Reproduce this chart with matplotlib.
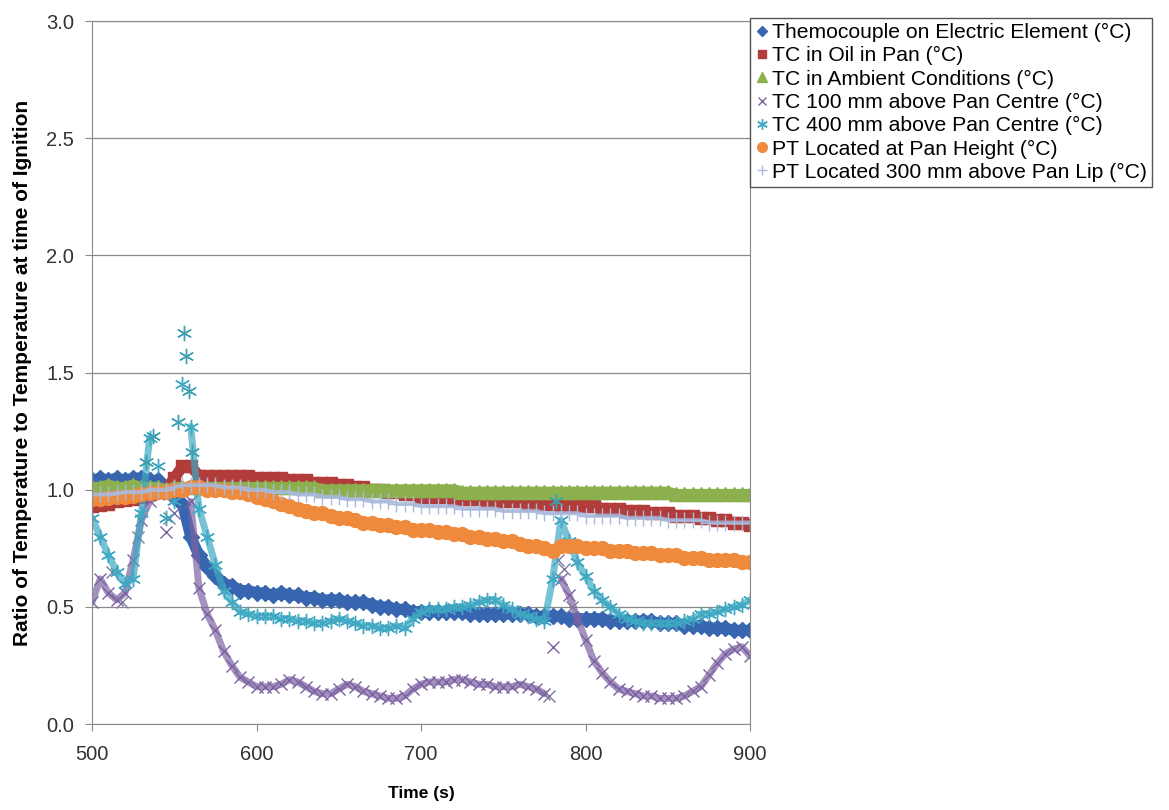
import numpy as np
import matplotlib
matplotlib.use('Agg')
import matplotlib.pyplot as plt

plt.rcParams['font.family'] = ['Liberation Sans', 'DejaVu Sans']

# time grid (s), every 5 s
time_s = np.arange(500, 901, 5)

element = [1.04, 1.05, 1.04, 1.05, 1.04, 1.05, 1.05, 1.04, 1.04,
           1.00, 0.97, 0.94, 0.80, 0.72, 0.67, 0.63, 0.60, 0.59, 0.57, 0.57, 0.56,
           0.56, 0.55, 0.56, 0.55, 0.55, 0.54, 0.54, 0.53, 0.53, 0.53,
           0.52, 0.52, 0.52, 0.51, 0.50, 0.50, 0.49, 0.49, 0.48, 0.48,
           0.48, 0.48, 0.48, 0.48, 0.48, 0.47, 0.47, 0.47, 0.47, 0.47,
           0.47, 0.47, 0.47, 0.46, 0.46, 0.46, 0.46, 0.45, 0.45, 0.45,
           0.45, 0.45, 0.44, 0.44, 0.44, 0.44, 0.44, 0.44, 0.43, 0.43,
           0.43, 0.42, 0.42, 0.42, 0.41, 0.41, 0.41, 0.40, 0.40, 0.40]

oil = [0.93, 0.935, 0.94, 0.95, 0.955, 0.96, 0.97, 0.98, 0.99,
       1.00, 1.05, 1.10, 1.10, 1.06, 1.06, 1.06, 1.06, 1.06, 1.06, 1.06, 1.05,
       1.05, 1.05, 1.05, 1.04, 1.04, 1.04, 1.03, 1.03, 1.03, 1.02,
       1.02, 1.01, 1.01, 1.00, 1.00, 0.99, 0.99, 0.98, 0.98, 0.97,
       0.97, 0.97, 0.97, 0.96, 0.96, 0.96, 0.96, 0.95, 0.95, 0.95,
       0.95, 0.95, 0.94, 0.94, 0.94, 0.94, 0.93, 0.93, 0.93, 0.93,
       0.93, 0.92, 0.92, 0.92, 0.91, 0.91, 0.91, 0.90, 0.90, 0.90,
       0.89, 0.89, 0.89, 0.88, 0.88, 0.87, 0.87, 0.86, 0.86, 0.85]

ambient = [1.01, 1.01, 1.02, 1.01, 1.01, 1.02, 1.01, 1.01, 1.01,
           1.00, 1.01, 1.01, 1.01, 1.01, 1.01, 1.01, 1.01, 1.01, 1.01, 1.01, 1.01,
           1.01, 1.01, 1.01, 1.01, 1.01, 1.01, 1.01, 1.00, 1.00, 1.00,
           1.00, 1.00, 1.00, 1.00, 1.00, 1.00, 1.00, 1.00, 1.00, 1.00,
           1.00, 1.00, 1.00, 1.00, 0.99, 0.99, 0.99, 0.99, 0.99, 0.99,
           0.99, 0.99, 0.99, 0.99, 0.99, 0.99, 0.99, 0.99, 0.99, 0.99,
           0.99, 0.99, 0.99, 0.99, 0.99, 0.99, 0.99, 0.99, 0.99, 0.99,
           0.98, 0.98, 0.98, 0.98, 0.98, 0.98, 0.98, 0.98, 0.98, 0.98]

tc100 = [0.52, 0.62, 0.56, 0.53, 0.56, 0.70, 0.87, 0.95, 0.98,
         0.82, 0.90, 1.00, 0.95, 0.58, 0.47, 0.40, 0.31, 0.25, 0.20, 0.18, 0.16,
         0.16, 0.16, 0.17, 0.19, 0.18, 0.16, 0.14, 0.13, 0.13, 0.15,
         0.17, 0.16, 0.14, 0.13, 0.12, 0.11, 0.11, 0.12, 0.15, 0.17,
         0.18, 0.18, 0.18, 0.19, 0.19, 0.18, 0.17, 0.17, 0.16, 0.16,
         0.16, 0.17, 0.16, 0.15, 0.13, 0.33, 0.62, 0.55, 0.45, 0.36,
         0.27, 0.22, 0.18, 0.15, 0.14, 0.13, 0.12, 0.12, 0.11, 0.11,
         0.11, 0.12, 0.14, 0.16, 0.21, 0.26, 0.30, 0.32, 0.33, 0.29]
tc100_extra_t = [512, 518, 528, 547, 778, 783, 787, 792]
tc100_extra = [0.65, 0.52, 0.80, 0.88, 0.12, 0.70, 0.66, 0.50]

tc400 = [0.88, 0.80, 0.72, 0.65, 0.60, 0.62, 0.90, 1.22, 1.10,
         0.88, 0.95, 1.45, 1.27, 0.92, 0.80, 0.68, 0.57, 0.52, 0.48, 0.47, 0.46,
         0.46, 0.46, 0.45, 0.45, 0.44, 0.44, 0.43, 0.43, 0.44, 0.45,
         0.44, 0.43, 0.42, 0.42, 0.41, 0.41, 0.42, 0.41, 0.45, 0.48,
         0.49, 0.49, 0.49, 0.50, 0.50, 0.51, 0.52, 0.53, 0.53, 0.51,
         0.49, 0.47, 0.46, 0.45, 0.44, 0.62, 0.87, 0.78, 0.69, 0.63,
         0.57, 0.53, 0.50, 0.47, 0.45, 0.44, 0.43, 0.43, 0.43, 0.43,
         0.43, 0.44, 0.45, 0.47, 0.47, 0.48, 0.49, 0.50, 0.51, 0.53]
tc400_extra_t = [533, 537, 552, 556, 557, 559, 561, 782]
tc400_extra = [1.12, 1.23, 1.29, 1.67, 1.57, 1.42, 1.16, 0.95]

pan_height = [0.96, 0.96, 0.965, 0.97, 0.97, 0.975, 0.98, 0.985, 0.99,
              0.99, 1.00, 1.00, 1.01, 1.01, 1.00, 1.00, 1.00, 0.99, 0.99, 0.98, 0.97,
              0.96, 0.95, 0.94, 0.93, 0.92, 0.91, 0.90, 0.90, 0.89, 0.88,
              0.88, 0.87, 0.86, 0.86, 0.85, 0.85, 0.84, 0.84, 0.83, 0.83,
              0.83, 0.82, 0.82, 0.81, 0.81, 0.80, 0.80, 0.79, 0.79, 0.78,
              0.78, 0.77, 0.76, 0.76, 0.75, 0.74, 0.76, 0.76, 0.76, 0.75,
              0.75, 0.75, 0.74, 0.74, 0.74, 0.73, 0.73, 0.73, 0.72, 0.72,
              0.72, 0.71, 0.71, 0.71, 0.70, 0.70, 0.70, 0.70, 0.69, 0.69]

pan_lip = [0.98, 0.98, 0.98, 0.985, 0.99, 0.99, 0.99, 1.00, 1.00,
           1.00, 1.01, 1.02, 1.02, 1.02, 1.02, 1.02, 1.01, 1.01, 1.01, 1.00, 1.00,
           1.00, 0.99, 0.99, 0.99, 0.98, 0.98, 0.98, 0.97, 0.97, 0.97,
           0.96, 0.96, 0.96, 0.95, 0.95, 0.95, 0.94, 0.94, 0.94, 0.93,
           0.93, 0.93, 0.93, 0.93, 0.92, 0.92, 0.92, 0.92, 0.92, 0.91,
           0.91, 0.91, 0.91, 0.91, 0.90, 0.90, 0.90, 0.90, 0.90, 0.89,
           0.89, 0.89, 0.89, 0.89, 0.88, 0.88, 0.88, 0.88, 0.88, 0.87,
           0.87, 0.87, 0.87, 0.87, 0.86, 0.86, 0.86, 0.86, 0.86, 0.86]

labels = ['Themocouple on Electric Element (°C)',
          'TC in Oil in Pan (°C)',
          'TC in Ambient Conditions (°C)',
          'TC 100 mm above Pan Centre (°C)',
          'TC 400 mm above Pan Centre (°C)',
          'PT Located at Pan Height (°C)',
          'PT Located 300 mm above Pan Lip (°C)']

c_el, c_oil, c_amb = '#3865b0', '#b23c3a', '#8db04f'
c_100, c_400, c_ph, c_pl = '#7d62a3', '#3ea8c2', '#ef8a3c', '#a9b9dc'

fig = plt.figure(figsize=(11.69, 8.10), dpi=100)
ax = fig.add_axes([0.0787, 0.106, 0.563, 0.868])

# dense logger markers overlap into bands; a wide line under them gives the same look
band = dict(lw=8, solid_capstyle='round', solid_joinstyle='round')
tcband = dict(lw=5, alpha=0.7, solid_capstyle='round', solid_joinstyle='round')

ax.plot(time_s, element, color=c_el, **band)
h1, = ax.plot(time_s, element, ls='none', marker='D', ms=8, color=c_el, mec=c_el)
ax.plot(time_s, oil, color=c_oil, **band)
h2, = ax.plot(time_s, oil, ls='none', marker='s', ms=9, color=c_oil, mec=c_oil)
ax.plot(time_s, ambient, color=c_amb, **band)
h3, = ax.plot(time_s, ambient, ls='none', marker='^', ms=10, color=c_amb, mec=c_amb)

ax.plot(time_s[:9], tc100[:9], color=c_100, **tcband)
ax.plot(time_s[12:56], tc100[12:56], color=c_100, **tcband)
ax.plot(time_s[57:], tc100[57:], color=c_100, **tcband)
h4, = ax.plot(time_s, tc100, ls='none', marker='x', ms=9, mew=1.0, color=c_100)
ax.plot(tc100_extra_t, tc100_extra, ls='none', marker='x', ms=9, mew=1.0, color='#7d7a9e')

ax.plot(time_s[:8], tc400[:8], color=c_400, **tcband)
ax.plot(time_s[12:], tc400[12:], color=c_400, **tcband)
h5, = ax.plot(time_s, tc400, ls='none', marker=(6, 2, 0), ms=11, mew=1.0, color=c_400)
ax.plot(tc400_extra_t, tc400_extra, ls='none', marker=(6, 2, 0), ms=11, mew=1.0, color='#3f9fae')

ax.plot(time_s, pan_height, color=c_ph, **band)
h6, = ax.plot(time_s, pan_height, ls='none', marker='o', ms=10, color=c_ph, mec=c_ph)
ax.plot(time_s, pan_lip, color=c_pl, lw=3, alpha=0.8)
h7, = ax.plot(time_s, pan_lip, ls='none', marker='+', ms=11, mew=1.0, color=c_pl)

ax.set_xlim(500, 900)
ax.set_ylim(0, 3.0)
ax.set_xticks(np.arange(500, 901, 100))
ax.set_yticks(np.arange(0, 3.01, 0.5))
ax.set_yticklabels([f'{v:.1f}' for v in np.arange(0, 3.01, 0.5)])
ax.yaxis.grid(True, color='#8a8a8a', lw=0.9)
ax.set_axisbelow(True)
for s in ax.spines.values():
    s.set_color('#8a8a8a')
ax.tick_params(axis='both', direction='out', length=5, color='#8a8a8a',
               labelsize=14.5, labelcolor='#333333')
ax.tick_params(axis='y', pad=8)
ax.tick_params(axis='x', pad=10)

ax.set_xlabel('Time (s)', fontsize=12.5, fontweight='bold', labelpad=16)
ax.set_ylabel('Ratio of Temperature to Temperature at time of Ignition',
              fontsize=15, fontweight='bold', labelpad=10)

leg = fig.legend([h1, h2, h3, h4, h5, h6, h7], labels,
                 loc='upper left', bbox_to_anchor=(0.642, 0.978), borderaxespad=0,
                 fontsize=15.2, frameon=True, fancybox=False, framealpha=1,
                 edgecolor='#555555', handlelength=0.6, handletextpad=0.15,
                 labelspacing=0.2, borderpad=0.25, markerscale=0.7)
leg.get_frame().set_linewidth(1.0)

fig.savefig('out.png', dpi=100)
